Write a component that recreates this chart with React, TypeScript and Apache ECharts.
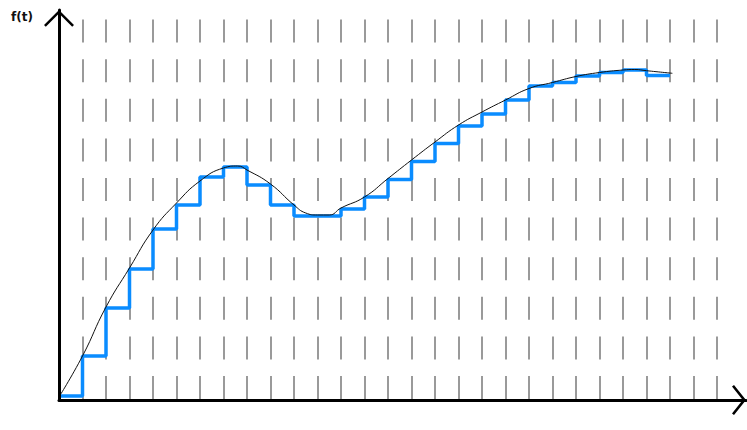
import React, { useEffect, useRef } from "react";
import * as echarts from "echarts";

// Step (sample) function: value held on [k, k+1)
const stepX = [0, 1, 2, 3, 4, 5, 6, 7, 8, 9, 10, 11, 12, 13, 14, 15, 16, 17, 18, 19, 20, 21, 22, 23, 24, 25, 26];
const stepValues = [0.4, 4.4, 9.2, 13.1, 17.1, 19.5, 22.3, 23.3, 21.5, 19.5, 18.4, 18.4, 19.1, 20.3, 22.05, 23.85, 25.65, 27.4, 28.6, 30.0, 31.4, 31.75, 32.4, 32.75, 33.0, 32.45, 32.45];

// Continuous curve f(t)
const curveX = [0, 1, 2, 3, 4, 5, 6, 7, 7.6, 8, 9, 10, 10.5, 11, 11.5, 12, 13, 14, 15, 16, 17, 18, 19, 20, 21, 22, 23, 24, 24.5, 25, 26.1];
const curveValues = [0.3, 4.4, 9.3, 13.2, 17.0, 19.7, 21.9, 23.2, 23.4, 23.0, 21.6, 19.5, 18.7, 18.5, 18.5, 19.2, 20.3, 22.15, 24.0, 25.8, 27.5, 28.8, 30.0, 31.15, 31.75, 32.35, 32.75, 33.0, 33.05, 32.93, 32.67];

const yAxisName = "f(t)";

export default function App() {
  const ref = useRef<HTMLDivElement>(null);
  useEffect(() => {
    const chart = echarts.init(ref.current!, null, { renderer: "svg" });
    const arrowY = "path://M15 0 L30 15 L28.2 16.8 L15 3.5 L1.8 16.8 L0 15 Z";
    const arrowX = "path://M15 0 L30 12 L28.4 14 L15 3.3 L1.6 14 L0 12 Z";
    const steps = stepX.map((x, i) => [x, stepValues[i]]);
    const curve = curveX.map((x, i) => [x, curveValues[i]]);
    chart.setOption({
      animation: false,
      backgroundColor: "#ffffff",
      title: {
        text: yAxisName,
        left: 11,
        top: 11,
        padding: 0,
        textStyle: { fontSize: 12, fontWeight: "bold", fontFamily: "DejaVu Sans", color: "#111" },
      },
      grid: [
        { left: 59, top: 10, right: 1, bottom: 30, show: false },
        { left: 59, top: 10, width: 658, bottom: 30, show: false },
      ],
      xAxis: [
        {
          gridIndex: 0,
          type: "value",
          min: 0,
          max: 1,
          z: 10,
          axisLine: {
            show: true,
            onZero: false,
            lineStyle: { color: "#000", width: 3 },
            symbol: ["none", arrowX],
            symbolSize: [30, 14],
            symbolOffset: [0, -7],
          },
          axisTick: { show: false },
          axisLabel: { show: false },
          splitLine: { show: false },
        },
        {
          gridIndex: 1,
          type: "value",
          min: 0,
          max: 28,
          interval: 1,
          axisLine: { show: false },
          axisTick: { show: false },
          axisLabel: { show: false },
          splitLine: {
            show: true,
            lineStyle: { color: "#9a9a9a", width: 2, type: [23, 16.6], dashOffset: 29.6 },
          },
        },
      ],
      yAxis: [
        {
          gridIndex: 0,
          type: "value",
          min: 0,
          max: 39,
          z: 10,
          axisLine: {
            show: true,
            onZero: false,
            lineStyle: { color: "#000", width: 3 },
            symbol: ["none", arrowY],
            symbolSize: [30, 16.8],
            symbolOffset: [0, -8.4],
          },
          axisTick: { show: false },
          axisLabel: { show: false },
          splitLine: { show: false },
        },
        {
          gridIndex: 1,
          type: "value",
          min: 0,
          max: 39,
          show: false,
          splitLine: { show: false },
        },
      ],
      series: [
        {
          type: "line",
          xAxisIndex: 1,
          yAxisIndex: 1,
          data: steps,
          step: "end",
          symbol: "none",
          lineStyle: { color: "#0a8cff", width: 3.5 },
          z: 2,
        },
        {
          type: "line",
          xAxisIndex: 1,
          yAxisIndex: 1,
          data: curve,
          smooth: true,
          symbol: "none",
          lineStyle: { color: "#111", width: 1 },
          z: 3,
        },
      ],
    });
    return () => chart.dispose();
  }, []);
  return <div ref={ref} style={{ position: "fixed", left: 0, top: 0, width: 747, height: 430 }} />;
}
